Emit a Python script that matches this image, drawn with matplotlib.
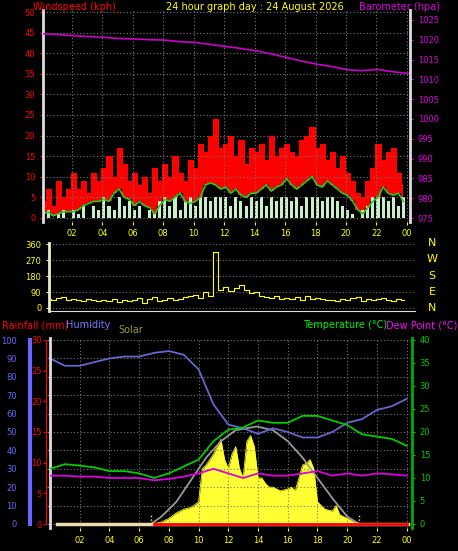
import numpy as np
import matplotlib.pyplot as plt

# ---- wind (20 min samples) ----
gust = [4, 7, 3, 9, 5, 7, 11, 7, 9, 6, 11, 9, 12, 15, 10, 17, 13, 9,
        11, 8, 10, 6, 12, 9, 13, 10, 15, 11, 9, 14, 12, 18, 16, 20, 24, 17,
        18, 20, 15, 19, 13, 17, 16, 18, 14, 20, 15, 17, 18, 16, 15, 19, 20, 22,
        17, 18, 14, 16, 12, 15, 11, 9, 6, 5, 9, 12, 18, 14, 16, 17, 11, 8]
wind_avg = [1, 1.5, 0.5, 1, 1.5, 1.5, 1.5, 2, 3, 3.5, 4, 4, 4.5, 4, 6, 7, 5, 4.5,
            3, 4, 3, 2.5, 1, 3, 4.5, 4, 5, 6, 4, 3.5, 4, 5, 8, 8.5, 8, 7,
            7.5, 6, 7, 5.5, 5, 6, 6, 7, 8, 6.5, 7.5, 8, 9.5, 8, 7, 8, 9, 10,
            8, 7.5, 9, 8, 7, 6, 5.5, 4, 2, 1, 2.5, 4, 5, 7.5, 6, 5.5, 6, 4]
lull = [0, 2, 0, 1, 2, 0, 2, 1, 3, 0, 3, 2, 5, 3, 2, 5, 3, 4,
        2, 3, 0, 2, 1, 4, 5, 3, 5, 2, 4, 5, 3, 5, 5, 4, 5, 5,
        5, 3, 5, 4, 3, 5, 4, 5, 3, 5, 4, 5, 5, 4, 5, 3, 5, 5,
        5, 4, 5, 5, 4, 3, 2, 1, 0, 2, 3, 5, 5, 5, 4, 5, 3, 5]
wind_dir = [40, 50, 45, 55, 60, 45, 50, 45, 40, 50, 45, 40, 45, 40, 50, 35, 45, 40,
            45, 55, 30, 50, 60, 40, 45, 55, 45, 50, 60, 65, 75, 55, 90, 70, 315, 100,
            120, 95, 110, 130, 100, 85, 90, 70, 60, 55, 65, 50, 55, 50, 60, 45, 70, 50,
            55, 50, 45, 45, 40, 50, 45, 55, 60, 40, 50, 45, 50, 55, 45, 40, 50, 45]
t_wind = np.arange(len(gust)) / 3 + 0.1

# ---- hourly ----
hours = np.arange(25)
baro = [1021.5, 1021.3, 1021, 1020.8, 1020.6, 1020.3, 1020.2, 1020, 1019.9, 1019.5,
        1019.3, 1018.8, 1018.3, 1017.8, 1017.2, 1016.4, 1015.5, 1014.6, 1013.8, 1013.2,
        1012.4, 1012.2, 1012.5, 1011.9, 1011.5]
humidity = [90, 86, 86, 88, 90, 91, 91, 93, 94, 92, 84, 65, 54, 52, 49, 52, 50, 47,
            47, 50, 55, 57, 62, 64, 68]
temp = [12, 13, 12.7, 12.3, 11.5, 11.5, 11, 10, 11, 12.5, 14, 18, 20.5, 21, 22.5, 22,
        22, 23.5, 23.5, 22.5, 21.5, 19.5, 19, 18.5, 17]
dew = [10.5, 10.5, 10.3, 10.3, 10, 10, 10, 9.5, 9.8, 10.3, 11, 12, 11, 10, 11, 10.5,
       10.5, 11, 11.5, 10.5, 11, 10.5, 11, 10.8, 10.5]

# ---- solar ----
solar_t = [7, 7.5, 8, 8.5, 9, 9.5, 10, 10.25, 10.5, 11, 11.25, 11.5, 11.75, 12, 12.25,
           12.5, 12.75, 13, 13.25, 13.5, 13.75, 14, 14.25, 14.5, 14.75, 15, 15.5, 16,
           16.25, 16.5, 16.75, 17, 17.25, 17.5, 17.75, 18, 18.5, 19, 19.25, 19.5, 20,
           20.5, 21]
solar_v = [0, 1, 3, 6, 8, 9, 12, 30, 32, 38, 42, 46, 35, 30, 38, 42, 30, 25, 45, 48,
           42, 25, 25, 22, 20, 20, 18, 19, 20, 18, 25, 32, 33, 35, 30, 12, 8, 7, 10, 5,
           3, 1, 0]
sun_t = [6.8, 7.5, 8.5, 9.5, 10.5, 11.5, 12.5, 13.9, 15, 16, 17, 18, 19, 20, 20.8]
sun_v = [0, 4, 12, 24, 36, 45, 51, 53, 51, 45, 36, 25, 14, 4, 0]

xticks = list(range(2, 25, 2))
xlabels = ["%02d" % (h % 24) for h in xticks]

FS = 6
TS = 7
W, H = 458, 551
fig = plt.figure(figsize=(W / 100, H / 100), dpi=100, facecolor="black")


def box(l, t, r, b):
    return [l / W, 1 - b / H, (r - l) / W, (b - t) / H]


def style(ax):
    ax.set_facecolor("black")
    for s in ax.spines.values():
        s.set_visible(False)
    ax.grid(True, color="#777777", linestyle=(0, (1, 2)), linewidth=0.8)
    ax.tick_params(labelsize=FS, length=2)


# ---- top panel ----
ax1 = fig.add_axes(box(43, 10, 410, 222))
style(ax1)
ax1.fill_between(t_wind, wind_avg, gust, step="mid", color="#ff0000", lw=0)
ax1.step(t_wind, gust, where="mid", color="#ff0000", lw=0.8)
ax1.bar(t_wind, lull, width=0.2, color="#c8f0c8", lw=0)
ax1.plot(t_wind, wind_avg, color="#22cc22", lw=1.2)
ax1.set_xlim(0.1, 24.2)
ax1.set_ylim(-1, 50.5)
ax1.set_yticks(range(0, 51, 5))
ax1.set_xticks(xticks)
ax1.set_xticklabels(xlabels, color="yellow")
ax1.tick_params(axis="y", colors="red")
ax1.tick_params(axis="x", colors="yellow", pad=3)
ax1.spines["left"].set_visible(True)
ax1.spines["left"].set_color("#dddddd")
ax1.spines["left"].set_linewidth(2)

ax1b = ax1.twinx()
ax1b.plot(hours + 0.1, baro, color="#cc00cc", lw=1.2)
ax1b.set_ylim(974, 1027.5)
ax1b.set_yticks(range(975, 1026, 5))
ax1b.tick_params(axis="y", colors="#dd00dd", labelsize=FS, length=2)
for s in ax1b.spines.values():
    s.set_visible(False)
ax1b.spines["right"].set_visible(True)
ax1b.spines["right"].set_color("#dddddd")
ax1b.spines["right"].set_linewidth(2)

fig.text(33 / W, 1 - 2 / H, "Windspeed (kph)", color="red", fontsize=TS, va="top")
fig.text(255 / W, 1 - 2 / H, "24 hour graph day : 24 August 2026", color="yellow",
         fontsize=TS, va="top", ha="center")
fig.text(440 / W, 1 - 2 / H, "Barometer (hpa)", color="#dd00dd", fontsize=TS,
         va="top", ha="right")

# ---- direction panel ----
ax2 = fig.add_axes(box(49, 243, 415, 311))
style(ax2)
ax2.step(t_wind, wind_dir, where="mid", color="yellow", lw=0.8)
ax2.set_xlim(0.5, 24.5)
ax2.set_ylim(-17, 366)
ax2.set_yticks([0, 90, 180, 270, 360])
ax2.set_xticks(xticks)
ax2.tick_params(axis="y", colors="yellow")
ax2.tick_params(axis="x", labelbottom=False, length=0)
ax2.grid(False, axis="x")
ax2.spines["left"].set_visible(True)
ax2.spines["left"].set_color("#eeeecc")
ax2.spines["left"].set_linewidth(2)
ax2.spines["bottom"].set_visible(True)
ax2.spines["bottom"].set_color("#dddddd")
for i, c in enumerate("NWSEN"):
    fig.text(432 / W, 1 - (243 + i * 16.3) / H, c, color="yellow", fontsize=TS + 1,
             ha="center", va="center")

# ---- bottom panel ----
ax3 = fig.add_axes(box(50, 338, 412, 528))
style(ax3)
ax3.set_xlim(0, 24.36)
ax3.set_ylim(-2.2, 101.1)
ax3.fill_between(solar_t, 0, solar_v, color="#ffff33", lw=0)
ax3.plot(solar_t, solar_v, color="#ffff00", lw=0.6)
ax3.plot(sun_t, sun_v, color="#999999", lw=1.3)
ax3.vlines([sun_t[0], sun_t[-1]], 0, 5, color="#ffff00", linestyles=":", lw=1)
ax3.plot(hours, humidity, color="#6666cc", lw=1.3)
ax3.axhline(0, color="#eeddaa", lw=2.5, xmin=0.02, xmax=0.99)
ax3.plot([7, 24], [0, 0], color="red", lw=2)
ax3.set_yticks(range(0, 101, 10))
ax3.set_xticks(xticks)
ax3.set_xticklabels(xlabels, color="yellow")
ax3.tick_params(axis="x", colors="yellow")
ax3.tick_params(axis="y", colors="#6666ff", pad=22)
ax3.spines["left"].set_visible(True)
ax3.spines["left"].set_color("#dddddd")
ax3.spines["left"].set_linewidth(2)

ax3t = ax3.twinx()
ax3t.plot(hours, temp, color="#00cc00", lw=1.3)
ax3t.plot(hours, dew, color="#dd00dd", lw=1.3)
ax3t.set_ylim(-0.87, 40.43)
ax3t.set_yticks(range(0, 41, 5))
ax3t.tick_params(axis="y", colors="#00cc00", labelsize=FS, length=2)
for s in ax3t.spines.values():
    s.set_visible(False)
ax3t.spines["right"].set_visible(True)
ax3t.spines["right"].set_color("#00aa00")
ax3t.spines["right"].set_linewidth(2)

ax3r = ax3.twinx()
ax3r.set_ylim(-0.65, 30.3)
ax3r.set_yticks(range(0, 31, 5))
for s in ax3r.spines.values():
    s.set_visible(False)
ax3r.yaxis.set_ticks_position("left")
ax3r.spines["left"].set_visible(True)
ax3r.spines["left"].set_position(("outward", 3))
ax3r.spines["left"].set_color("red")
ax3r.tick_params(axis="y", colors="red", labelsize=FS, length=2, pad=1)
ax3r.spines["left"].set_bounds(0, 30)

# humidity bar
fig.add_artist(plt.Line2D([30 / W, 30 / W], [1 - 524 / H, 1 - 340 / H],
                          color="#6666ff", lw=3))

fig.text(2 / W, 1 - 325 / H, "Rainfall (mm)", color="red", fontsize=TS, va="center")
fig.text(66 / W, 1 - 325 / H, "Humidity", color="#7777ff", fontsize=TS, va="center")
fig.text(118 / W, 1 - 330 / H, "Solar", color="#999933", fontsize=TS, va="center")
fig.text(387 / W, 1 - 325 / H, "Temperature (°C)", color="#00ee00", fontsize=TS,
         va="center", ha="right")
fig.text(457 / W, 1 - 325 / H, "Dew Point (°C)", color="#ff00ff", fontsize=TS,
         va="center", ha="right")

fig.savefig("out.png", dpi=100, facecolor="black")
